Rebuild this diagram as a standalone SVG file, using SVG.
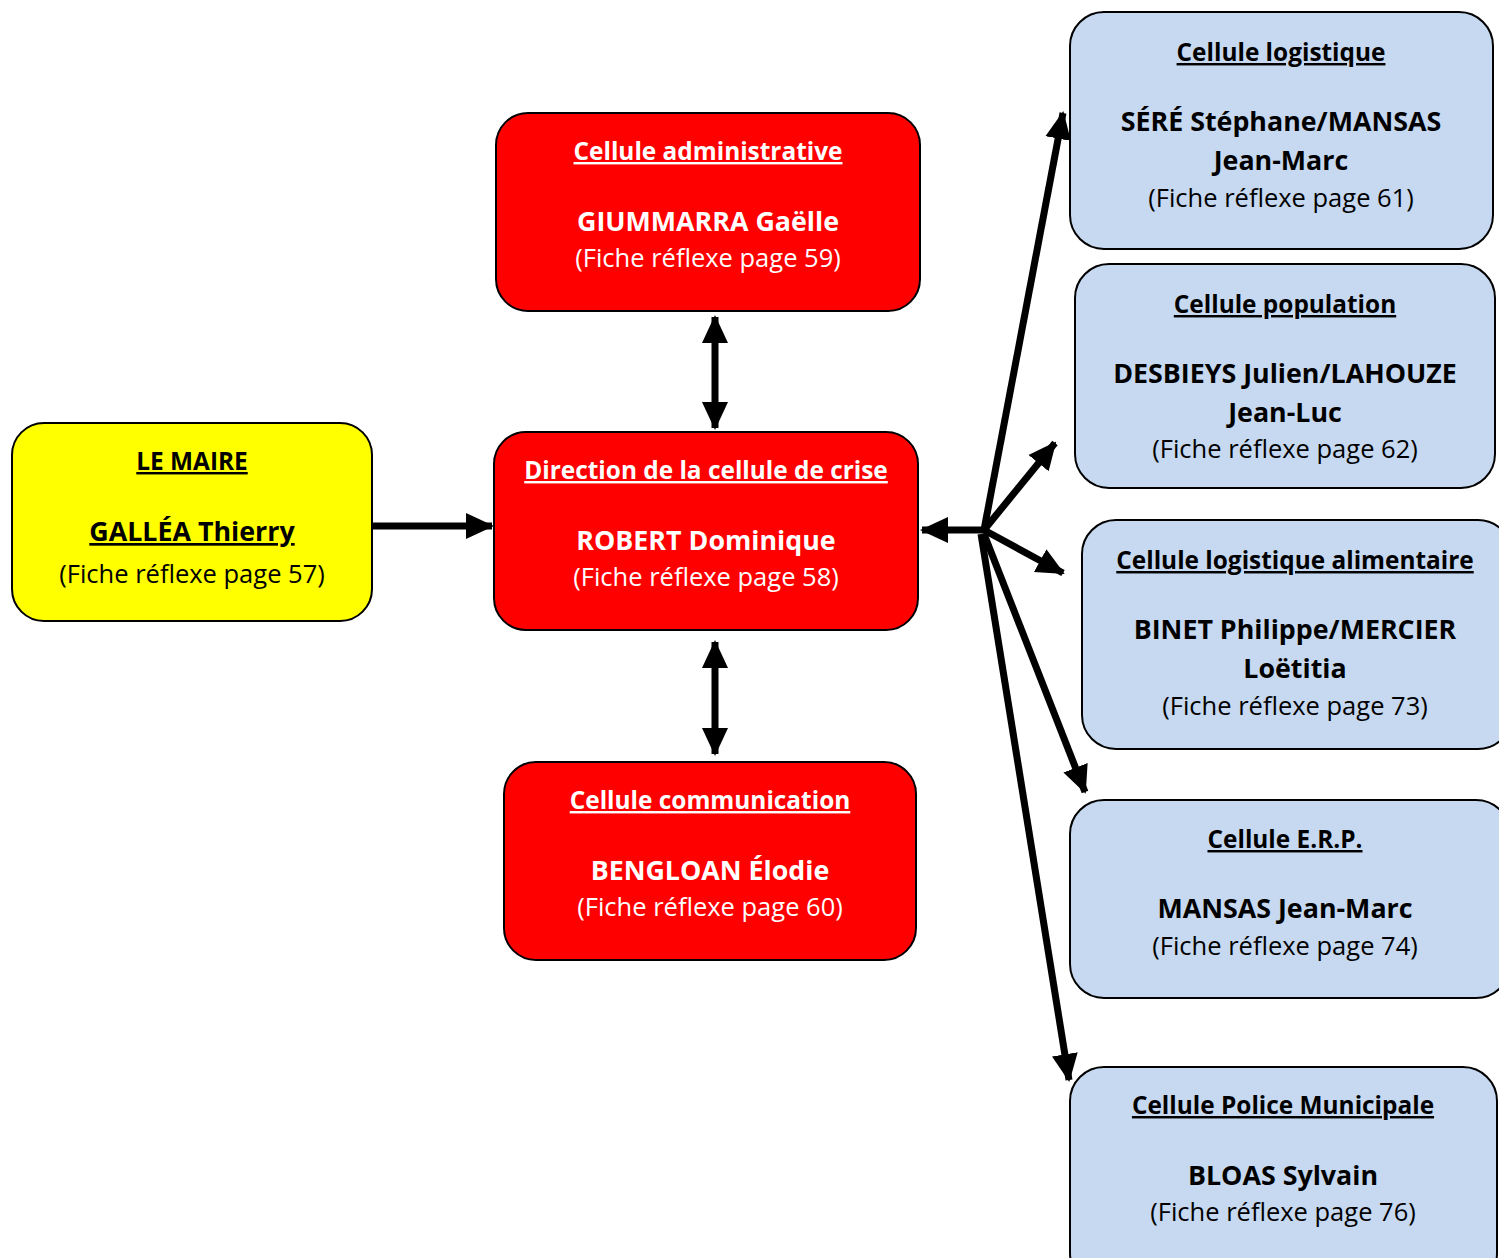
<svg xmlns="http://www.w3.org/2000/svg" width="1499" height="1258" viewBox="0 0 1499 1258">
<style>
.box{stroke:#000;stroke-width:2}
.y{fill:#FFFF00}.r{fill:#FF0000}.b{fill:#C6D9F1}
text{font-family:"Open Sans","Noto Sans",sans-serif;text-anchor:middle}
.t{font-size:24.4px;font-weight:bold;text-decoration:underline}
.n{font-size:26.8px;font-weight:bold}
.f{font-size:25.5px}
.w{fill:#fff}.k{fill:#000}
.c{stroke:#000;stroke-width:7;fill:none}
</style>
<defs>
<marker id="ah" markerUnits="userSpaceOnUse" markerWidth="28" markerHeight="28" refX="26" refY="13" orient="auto-start-reverse" viewBox="0 0 28 26">
<path d="M0,0 L28,13 L0,26 Z" fill="#000"/>
</marker>
</defs>
<g id="maire">
<rect class="box y" x="12" y="423" width="360" height="198" rx="32"/>
<text class="t k" x="192" y="470">LE MAIRE</text>
<text class="n k" x="192" y="541" text-decoration="underline">GALLÉA Thierry</text>
<text class="f k" x="192" y="583">(Fiche réflexe page 57)</text>
</g>
<g id="admin">
<rect class="box r" x="496" y="113" width="424" height="198" rx="32"/>
<text class="t w" x="708" y="160">Cellule administrative</text>
<text class="n w" x="708" y="231">GIUMMARRA Gaëlle</text>
<text class="f w" x="708" y="267">(Fiche réflexe page 59)</text>
</g>
<g id="direction">
<rect class="box r" x="494" y="432" width="424" height="198" rx="32"/>
<text class="t w" x="706" y="479">Direction de la cellule de crise</text>
<text class="n w" x="706" y="550">ROBERT Dominique</text>
<text class="f w" x="706" y="586">(Fiche réflexe page 58)</text>
</g>
<g id="communication">
<rect class="box r" x="504" y="762" width="412" height="198" rx="32"/>
<text class="t w" x="710" y="809">Cellule communication</text>
<text class="n w" x="710" y="880">BENGLOAN Élodie</text>
<text class="f w" x="710" y="916">(Fiche réflexe page 60)</text>
</g>
<g id="logistique">
<rect class="box b" x="1070" y="12" width="423" height="237" rx="34"/>
<text class="t k" x="1281" y="61">Cellule logistique</text>
<text class="n k" x="1281" y="131">SÉRÉ Stéphane/MANSAS</text>
<text class="n k" x="1281" y="170">Jean-Marc</text>
<text class="f k" x="1281" y="207">(Fiche réflexe page 61)</text>
</g>
<g id="population">
<rect class="box b" x="1075" y="264" width="420" height="224" rx="34"/>
<text class="t k" x="1285" y="313">Cellule population</text>
<text class="n k" x="1285" y="383">DESBIEYS Julien/LAHOUZE</text>
<text class="n k" x="1285" y="422">Jean-Luc</text>
<text class="f k" x="1285" y="458">(Fiche réflexe page 62)</text>
</g>
<g id="alimentaire">
<rect class="box b" x="1082" y="520" width="430" height="229" rx="34"/>
<text class="t k" x="1295" y="569">Cellule logistique alimentaire</text>
<text class="n k" x="1295" y="639">BINET Philippe/MERCIER</text>
<text class="n k" x="1295" y="678">Loëtitia</text>
<text class="f k" x="1295" y="715">(Fiche réflexe page 73)</text>
</g>
<g id="erp">
<rect class="box b" x="1070" y="800" width="440" height="198" rx="34"/>
<text class="t k" x="1285" y="848">Cellule E.R.P.</text>
<text class="n k" x="1285" y="918">MANSAS Jean-Marc</text>
<text class="f k" x="1285" y="955">(Fiche réflexe page 74)</text>
</g>
<g id="police">
<rect class="box b" x="1070" y="1067" width="427" height="220" rx="34"/>
<text class="t k" x="1283" y="1114">Cellule Police Municipale</text>
<text class="n k" x="1283" y="1185">BLOAS Sylvain</text>
<text class="f k" x="1283" y="1221">(Fiche réflexe page 76)</text>
</g>
<g id="connectors">
<line class="c" x1="372" y1="526" x2="492" y2="526" marker-end="url(#ah)"/>
<line class="c" x1="715" y1="317" x2="715" y2="428" marker-start="url(#ah)" marker-end="url(#ah)"/>
<line class="c" x1="715" y1="642" x2="715" y2="754" marker-start="url(#ah)" marker-end="url(#ah)"/>
<line class="c" x1="984" y1="530" x2="922" y2="530" marker-end="url(#ah)"/>
<line class="c" x1="984" y1="530" x2="1063" y2="113" marker-end="url(#ah)"/>
<line class="c" x1="984" y1="530" x2="1055" y2="443" marker-end="url(#ah)"/>
<line class="c" x1="984" y1="530" x2="1063" y2="573" marker-end="url(#ah)"/>
<line class="c" x1="984" y1="534" x2="1085" y2="792" marker-end="url(#ah)"/>
<line class="c" x1="981" y1="534" x2="1069" y2="1080" marker-end="url(#ah)"/>
</g>
</svg>
